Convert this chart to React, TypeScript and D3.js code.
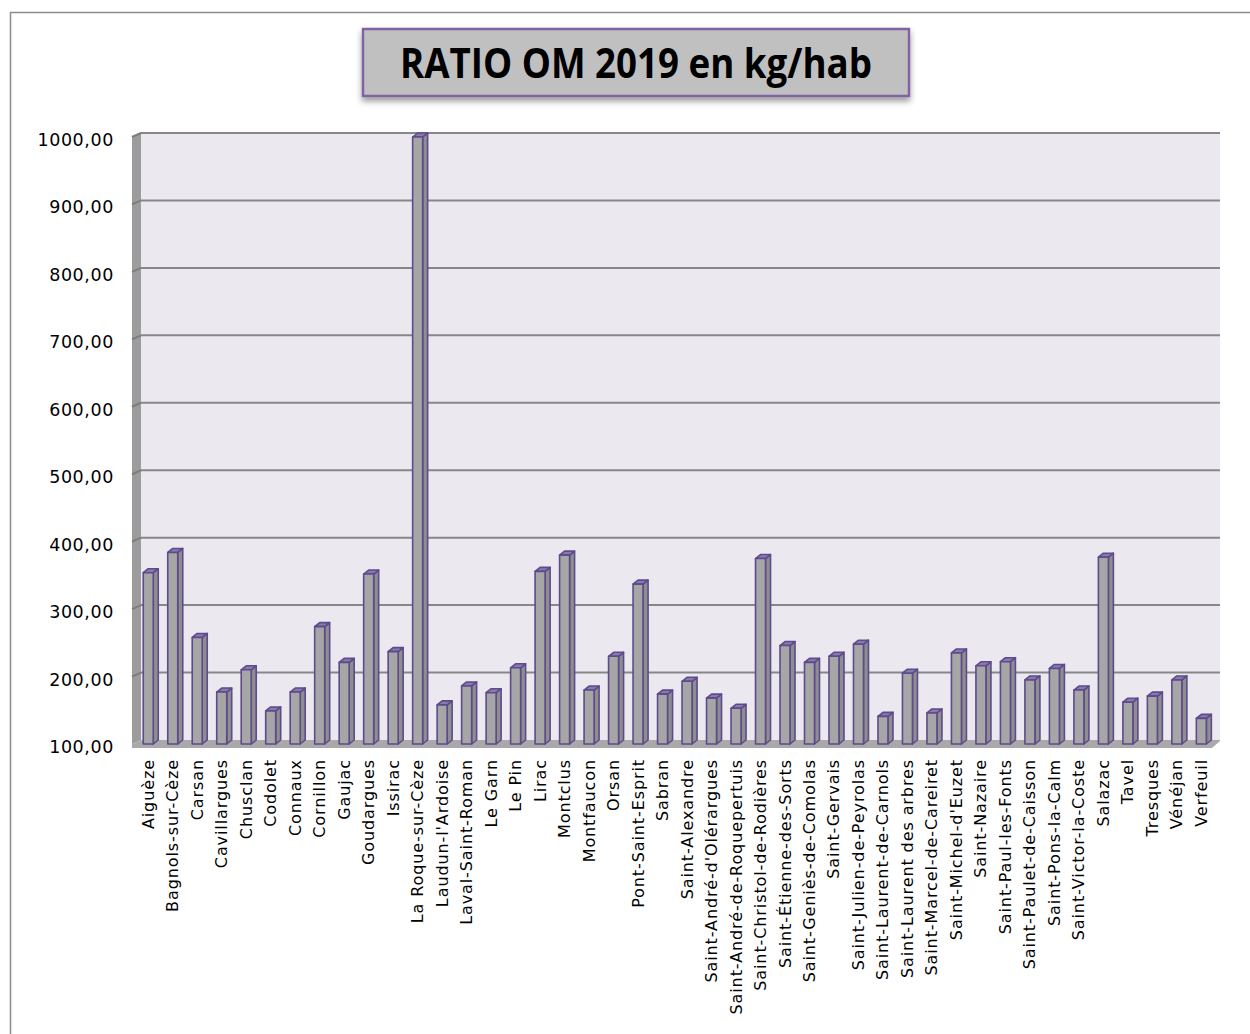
import * as d3 from 'd3';

const communes = [
  'Aiguèze', 'Bagnols-sur-Cèze', 'Carsan', 'Cavillargues', 'Chusclan', 'Codolet', 'Connaux',
  'Cornillon', 'Gaujac', 'Goudargues', 'Issirac', 'La Roque-sur-Cèze', "Laudun-l'Ardoise",
  'Laval-Saint-Roman', 'Le Garn', 'Le Pin', 'Lirac', 'Montclus', 'Montfaucon', 'Orsan',
  'Pont-Saint-Esprit', 'Sabran', 'Saint-Alexandre', "Saint-André-d'Olérargues",
  'Saint-André-de-Roquepertuis', 'Saint-Christol-de-Rodières', 'Saint-Étienne-des-Sorts',
  'Saint-Geniès-de-Comolas', 'Saint-Gervais', 'Saint-Julien-de-Peyrolas',
  'Saint-Laurent-de-Carnols', 'Saint-Laurent des arbres', 'Saint-Marcel-de-Careiret',
  "Saint-Michel-d'Euzet", 'Saint-Nazaire', 'Saint-Paul-les-Fonts', 'Saint-Paulet-de-Caisson',
  'Saint-Pons-la-Calm', 'Saint-Victor-la-Coste', 'Salazac', 'Tavel', 'Tresques', 'Vénéjan', 'Verfeuil',
];

const ratios = [
  354, 384, 258, 177, 210, 149, 177, 274, 221, 352, 237, 1000, 158, 186, 176, 213,
  356, 380, 180, 230, 337, 174, 193, 168, 153, 375, 246, 221, 230, 248, 141, 205,
  146, 235, 216, 222, 195, 212, 180, 377, 162, 171, 195, 138,
];

const yTicks = [100, 200, 300, 400, 500, 600, 700, 800, 900, 1000];

const title = 'RATIO OM 2019 en kg/hab';

export default function App() {
  const W = 1250;
  const H = 1034;
  const wallLeft = 132;
  const depthX = 9;
  const depthY = 4;
  const plotLeft = wallLeft + depthX;
  const plotRight = 1220;

  const x = d3.scaleBand<string>().domain(communes).range([136, 1213.6]).padding(0);
  const y = d3.scaleLinear().domain([100, 1000]).range([744, 137]);
  const grid = (v: number) => y(v) - 4;
  const fmt = (v: number) => v.toFixed(2).replace('.', ',');

  const barW = 10;
  const bdx = 5;
  const bdy = 4;
  const stroke = '#5e4a8c';

  return (
    <svg width={W} height={H} style={{ position: 'absolute', left: 0, top: 0 }}>
      <defs>
        <filter id="shadow" x="-10%" y="-10%" width="120%" height="150%">
          <feDropShadow dx="0" dy="4" stdDeviation="3" floodColor="#000" floodOpacity="0.4" />
        </filter>
      </defs>
      <rect x={0} y={0} width={W} height={H} fill="#fff" />
      <rect x={10.5} y={12.5} width={W + 20} height={H + 20} fill="none" stroke="#8c8c8c" strokeWidth={1.5} />

      {/* title box */}
      <rect x={363} y={29} width={546} height={67} fill="#c0c0c0" stroke="#8064a2" strokeWidth={2.5} filter="url(#shadow)" />
      <text x={636} y={78} textAnchor="middle" fontFamily="'Open Sans', sans-serif" fontWeight="bold"
        fontSize={41} textLength={472} lengthAdjust="spacingAndGlyphs" fill="#000">{title}</text>

      {/* back wall */}
      <rect x={plotLeft} y={grid(1000)} width={plotRight - plotLeft} height={grid(100) - grid(1000)} fill="#ebe8f0" />
      {/* left wall */}
      <polygon
        points={`${wallLeft},${grid(1000) + depthY} ${plotLeft},${grid(1000)} ${plotLeft},${grid(100)} ${wallLeft},${grid(100) + depthY}`}
        fill="#9c9c9c" />
      <polyline
        points={`${wallLeft},${grid(1000) + depthY} ${plotLeft},${grid(1000)} ${plotRight},${grid(1000)}`}
        fill="none" stroke="#a6a6a6" strokeWidth={1.5} />

      {/* floor */}
      <polygon
        points={`${wallLeft},${grid(100) + 8} ${wallLeft},${grid(100) + depthY} ${plotLeft},${grid(100)} ${plotRight},${grid(100)} ${plotRight},${grid(100) + 1} ${plotRight - 8},${grid(100) + 8}`}
        fill="#a9a9a9" />

      {/* gridlines */}
      {yTicks.filter(t => t > 100).map(t => (
        <g key={t}>
          <line x1={plotLeft} x2={plotRight} y1={grid(t)} y2={grid(t)} stroke="#878787" strokeWidth={2} />
          <line x1={wallLeft} x2={plotLeft} y1={grid(t) + depthY} y2={grid(t)} stroke="#7d7d7d" strokeWidth={2} />
        </g>
      ))}

      {/* y labels */}
      {yTicks.map(t => (
        <text key={t} x={114} y={grid(t) + 7} textAnchor="end" dominantBaseline="central"
          fontFamily="'DejaVu Sans', sans-serif" fontSize={17.5} letterSpacing={0.6} fill="#000">{fmt(t)}</text>
      ))}

      {/* bars */}
      {communes.map((c, i) => {
        const cx = (x(c) as number) + x.bandwidth() / 2;
        const x0 = cx - barW / 2;
        const x1 = cx + barW / 2;
        const top = y(ratios[i]);
        const bottom = y(100);
        return (
          <g key={c} stroke={stroke} strokeWidth={1.6} strokeLinejoin="round">
            <polygon points={`${x1},${top} ${x1 + bdx},${top - bdy} ${x1 + bdx},${bottom - bdy} ${x1},${bottom}`} fill="#8e8e8e" />
            <polygon points={`${x0},${top} ${x0 + bdx},${top - bdy} ${x1 + bdx},${top - bdy} ${x1},${top}`} fill="#8a7aac" />
            <rect x={x0} y={top} width={barW} height={bottom - top} fill="#a6a6a6" />
          </g>
        );
      })}

      {/* category labels */}
      {communes.map(c => {
        const cx = (x(c) as number) + x.bandwidth() / 2;
        return (
          <text key={c} transform={`translate(${cx},759) rotate(-90)`} textAnchor="end" dominantBaseline="central"
            fontFamily="'DejaVu Sans', sans-serif" fontSize={16} letterSpacing={0.9} fill="#000">{c}</text>
        );
      })}
    </svg>
  );
}
